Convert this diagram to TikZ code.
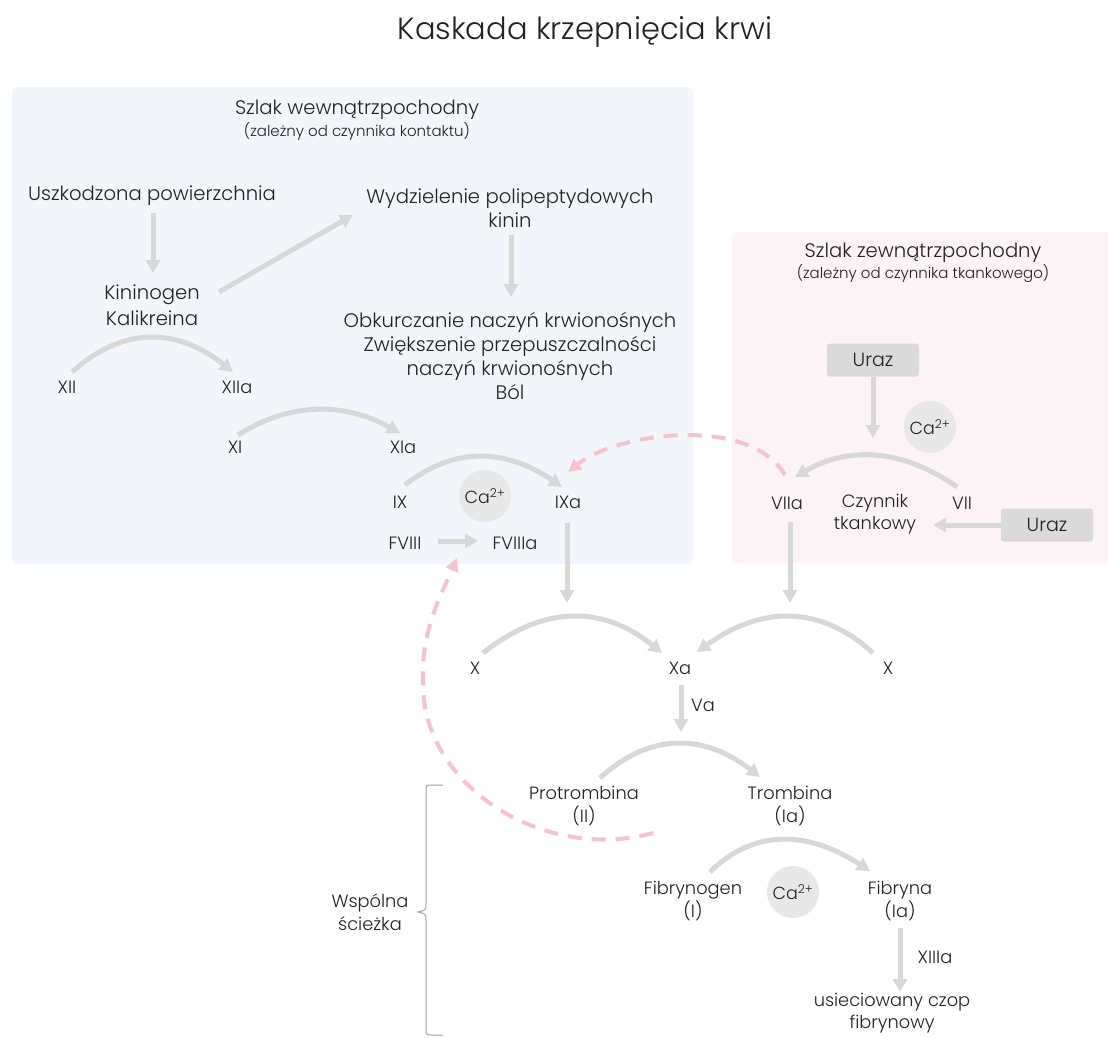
\documentclass[tikz,border=0pt]{standalone}
\usepackage{fontspec}
\setmainfont{Poppins}[UprightFont=* Light]
\usetikzlibrary{arrows.meta,calc}
\definecolor{txt}{HTML}{222222}
\definecolor{agray}{HTML}{D8D8D8}
\definecolor{cgray}{HTML}{E8E8E8}
\definecolor{ugray}{HTML}{DADADA}
\definecolor{lbfill}{HTML}{F2F5FA}
\definecolor{rbfill}{HTML}{FBF3F5}
\definecolor{pinkc}{HTML}{F4C3CF}
\definecolor{bracec}{HTML}{A0A0A0}
\tikzset{
 base/.style={text=txt, inner sep=1pt, align=center},
 tA/.style={base, font=\fontsize{19.6}{24}\selectfont},
 tB/.style={base, font=\fontsize{17.8}{22.5}\selectfont},
 tS/.style={base, font=\fontsize{15}{17}\selectfont},
 garrow/.style={draw=agray, line width=5pt, -{Triangle[length=13pt,width=14pt]}},
 pdash/.style={draw=pinkc, line width=4pt, dash pattern=on 14pt off 10pt, -{Triangle[length=13pt,width=13pt]}},
 cacirc/.style={circle, fill=cgray, minimum size=52pt, inner sep=0pt, text=txt, font=\fontsize{17.5}{19}\selectfont},
 urazbox/.style={fill=ugray, rounded corners=3pt, minimum width=92pt, minimum height=33pt, text=txt, font=\fontsize{19}{21}\selectfont},
}
\begin{document}
\begin{tikzpicture}[x=1pt,y=-1pt]
\useasboundingbox (0,0) rectangle (1108,1037);
\fill[white] (0,0) rectangle (1108,1037);
% panels
\fill[lbfill, rounded corners=6pt] (12,87) rectangle (693,564);
\fill[rbfill, rounded corners=6pt] (732,232) rectangle (1120,563);
% title
\node[base, font=\fontsize{30.5}{33}\selectfont] (title) at (585,32) {Kaskada krzepnięcia krwi};
\node[tA] (wt) at (357,110) {Szlak wewnątrzpochodny};
\node[tS] (ws) at (357,131) {(zależny od czynnika kontaktu)};
\node[tA] (zt) at (923,253) {Szlak zewnątrzpochodny};
\node[tS] (zs) at (923,273) {(zależny od czynnika tkankowego)};
% intrinsic
\node[tA] (usz) at (152,196) {Uszkodzona powierzchnia};
\node[base, font=\fontsize{19.6}{26}\selectfont] (kin) at (152,305) {Kininogen\\Kalikreina};
\node[tA] (wyd) at (510,208) {Wydzielenie polipeptydowych\\kinin};
\node[tA] (obk) at (510,356) {Obkurczanie naczyń krwionośnych\\Zwiększenie przepuszczalności\\naczyń krwionośnych\\Ból};
\node[tB] (xii) at (67,387) {XII};
\node[tB] (xiia) at (237,387) {XIIa};
\node[tB] (xi) at (235,447) {XI};
\node[tB] (xia) at (403,447) {XIa};
\node[tB] (ix) at (400,502) {IX};
\node[tB] (ixa) at (568,502) {IXa};
\node[cacirc] (ca1) at (485,496) {Ca\textsuperscript{2+}};
\node[tB] (fviii) at (405,543) {FVIII};
\node[tB] (fviiia) at (515,543) {FVIIIa};
% extrinsic
\node[urazbox] (uraz1) at (873,360) {Uraz};
\node[cacirc] (ca2) at (930,427) {Ca\textsuperscript{2+}};
\node[tB] (viia) at (787,503) {VIIa};
\node[tB] (tk) at (875,514) {Czynnik\\tkankowy};
\node[tB] (vii) at (962,503) {VII};
\node[urazbox] (uraz2) at (1047,525) {Uraz};
% common
\node[tB] (x1) at (475,668) {X};
\node[tB] (xa) at (680,668) {Xa};
\node[tB] (x2) at (888,668) {X};
\node[tB] (va) at (703,705) {Va};
\node[tB] (prot) at (584,806) {Protrombina\\(II)};
\node[tB] (trom) at (790,806) {Trombina\\(Ia)};
\node[tB] (fibg) at (693,901) {Fibrynogen\\(I)};
\node[cacirc] (ca3) at (793,892) {Ca\textsuperscript{2+}};
\node[tB] (fibr) at (900,901) {Fibryna\\(Ia)};
\node[tB] (xiiia) at (935,957) {XIIIa};
\node[tB] (usi) at (892,1013) {usieciowany czop\\fibrynowy};
\node[tB] (wsp) at (370,912) {Wspólna\\ścieżka};
% free ends
\coordinate (xL) at (567,603);
\coordinate (xR) at (790,603);
\coordinate (viiarc) at (873,438);
\coordinate (parc) at (681,732);
\coordinate (m1) at (423,680);
% straight arrows
\draw[garrow] ([shift={(1,17)}]usz.center) -- ([shift={(1,-32)}]kin.center);
\draw[garrow] ([shift={(67,-13)}]kin.center) -- ([shift={(-157,7)}]wyd.center);
\draw[garrow] ([shift={(1,27)}]wyd.center) -- ([shift={(1,-59)}]obk.center);
\draw[garrow] ([shift={(33,-2)}]fviii.center) -- ([shift={(-37,-2)}]fviiia.center);
\draw[garrow] ([shift={(-1,21)}]ixa.center) -- (xL);
\draw[garrow] (uraz1.south) -- (viiarc);
\draw[garrow] (uraz2.west) -- ([shift={(58,11)}]tk.center);
\draw[garrow] ([shift={(3,19)}]viia.center) -- (xR);
\draw[garrow] ([shift={(1,17)}]xa.center) -- (parc);
\draw[garrow] ([shift={(0,27)}]fibr.center) -- ([shift={(8,-21)}]usi.center);
% arcs
\draw[garrow] ([shift={(5,-15)}]xii.center) .. controls +(50.3,-45.3) and +(-57,-45.3) .. ([shift={(-4,-15)}]xiia.center);
\draw[garrow] ([shift={(3,-12)}]xi.center) .. controls +(51.3,-32.7) and +(-56.7,-31.3) .. ([shift={(-3,-14)}]xia.center);
\draw[garrow] ([shift={(5,-17)}]ix.center) .. controls +(47.7,-38) and +(-57,-39.3) .. ([shift={(-6,-15)}]ixa.center);
\draw[garrow] ([shift={(-5,-16)}]vii.center) .. controls +(-54,-38) and +(54,-31.3) .. ([shift={(8,-26)}]viia.center);
\draw[garrow] ([shift={(8,-15)}]x1.center) .. controls +(60.3,-48) and +(-59,-48) .. ([shift={(-18,-15)}]xa.center);
\draw[garrow] ([shift={(-15,-15)}]x2.center) .. controls +(-52,-47.7) and +(65.3,-47) .. ([shift={(17,-16)}]xa.center);
\draw[garrow] ([shift={(16,-28)}]prot.center) .. controls +(49.3,-45) and +(-57.3,-44.3) .. ([shift={(-30,-29)}]trom.center);
\draw[garrow] ([shift={(17,-29)}]fibg.center) .. controls +(42.7,-42.3) and +(-64,-41.7) .. ([shift={(-30,-30)}]fibr.center);
% dashed feedback
\draw[pdash] ([shift={(-2,-28)}]viia.center) .. controls +(-35,-60) and +(50,-40) .. ([shift={(0,-30)}]ixa.center);
\draw[pdash] ([shift={(69,27)}]prot.center) .. controls +(-110,30) and +(-3,105) .. (m1) .. controls +(-2,-50) and +(-15,35) .. ([shift={(-58,15)}]fviiia.center);
% brace
\draw[bracec, line width=1pt] (443,785) -- (432,785) .. controls (426,785) .. (426,791) -- (426,904) .. controls (426,910) .. (418,912) .. controls (426,914) .. (426,920) -- (426,1029) .. controls (426,1035) .. (432,1035) -- (443,1035);
\end{tikzpicture}
\end{document}
